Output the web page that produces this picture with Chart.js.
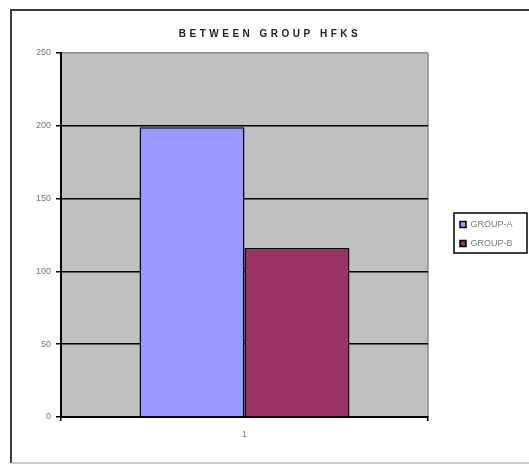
<!DOCTYPE html>
<html><head><meta charset="utf-8">
<script src="https://cdn.jsdelivr.net/npm/chart.js@4/dist/chart.umd.min.js"></script>
<style>html,body{margin:0;padding:0;background:#fff;overflow:hidden}</style>
</head><body>
<canvas id="c" width="529" height="464" style="display:block;width:529px;height:464px"></canvas>
<script>
const categories = ['1'];
const seriesNames = ['GROUP-A', 'GROUP-B'];
const groupA = [199];
const groupB = [116];
const yTicks = [0, 50, 100, 150, 200, 250];
const titleText = 'BETWEEN GROUP HFKS';

const FONT = "'Liberation Sans', Arial, sans-serif";

const framePlugin = {
  id: 'frame',
  beforeDraw(chart) {
    const ctx = chart.ctx, a = chart.chartArea;
    ctx.save();
    ctx.fillStyle = '#fff';
    ctx.fillRect(0, 0, chart.width, chart.height);
    ctx.strokeStyle = '#3a3a3a';
    ctx.lineWidth = 2;
    ctx.beginPath();
    ctx.moveTo(11, 463); ctx.lineTo(11, 10); ctx.lineTo(chart.width, 10);
    ctx.stroke();
    ctx.strokeStyle = '#b8b8b8';
    ctx.lineWidth = 1.5;
    ctx.beginPath(); ctx.moveTo(11, 463); ctx.lineTo(chart.width, 463); ctx.stroke();
    ctx.fillStyle = '#C0C0C0';
    ctx.fillRect(a.left, a.top, a.right - a.left, a.bottom - a.top);
    ctx.strokeStyle = '#8c8c8c';
    ctx.lineWidth = 1.5;
    ctx.beginPath(); ctx.moveTo(a.right, a.top); ctx.lineTo(a.right, a.bottom); ctx.stroke();
    ctx.restore();
  },
  afterLayout(chart) {
    const lg = chart.legend;
    if (lg) { lg.left = 450; lg.top = 210; }
  },
  afterDraw(chart) {
    const lg = chart.legend;
    if (!lg || !lg.legendHitBoxes || !lg.legendHitBoxes.length) return;
    const hb = lg.legendHitBoxes;
    const first = hb[0], last = hb[hb.length - 1];
    const ctx = chart.ctx;
    ctx.save();
    ctx.strokeStyle = '#000';
    ctx.lineWidth = 1.5;
    const x0 = first.left - 6, y0 = first.top - 7;
    const y1 = last.top + last.height + 5;
    ctx.strokeRect(x0, y0, 527 - x0, y1 - y0);
    ctx.restore();
  }
};

const chart = new Chart(document.getElementById('c'), {
  type: 'bar',
  data: {
    labels: categories,
    datasets: [
      { label: seriesNames[0], data: groupA, backgroundColor: '#9999FF', borderColor: '#000', borderWidth: 1.5 },
      { label: seriesNames[1], data: groupB, backgroundColor: '#993366', borderColor: '#000', borderWidth: 1.5 }
    ]
  },
  options: {
    responsive: false,
    animation: false,
    layout: { padding: { left: 11, top: 10, right: 0, bottom: 0 } },
    datasets: { bar: { categoryPercentage: 0.572, barPercentage: 1 } },
    plugins: {
      tooltip: { enabled: false },
      title: {
        display: true, text: titleText, color: '#222',
        font: { family: FONT, size: 10, weight: 'bold' },
        padding: { top: 18, bottom: 13 }
      },
      legend: {
        position: 'right', align: 'start',
        labels: {
          boxWidth: 6, boxHeight: 6, padding: 10, color: '#777',
          font: { family: FONT, size: 9 }
        }
      }
    },
    scales: {
      x: {
        grid: { offset: true, drawOnChartArea: false, tickLength: 4, color: '#000', lineWidth: 1.5 },
        border: { color: '#000', width: 2 },
        ticks: { color: '#777', padding: 8, font: { family: FONT, size: 9 } },
        afterFit(s) { s.height = 47; }
      },
      y: {
        min: yTicks[0], max: yTicks[yTicks.length - 1],
        afterBuildTicks(s) { s.ticks = yTicks.map(v => ({ value: v })); },
        grid: {
          color: c => (c.tick && c.tick.value === 250) ? '#8c8c8c' : '#000',
          tickColor: '#000', lineWidth: 1.5, tickLength: 5
        },
        border: { color: '#000', width: 2 },
        ticks: { color: '#777', padding: 5, font: { family: FONT, size: 9 } },
        afterFit(s) { s.width = 50; }
      }
    }
  },
  plugins: [framePlugin]
});

const lg = chart.legend;
const origFit = lg.fit.bind(lg);
lg.fit = function () { origFit(); this.width = 101; };
const tb = chart.titleBlock;
const origDraw = tb.draw.bind(tb);
tb.draw = function () { const c = this.ctx; c.save(); c.letterSpacing = '3.5px'; origDraw(); c.restore(); };
chart.update();
</script>
</body></html>
